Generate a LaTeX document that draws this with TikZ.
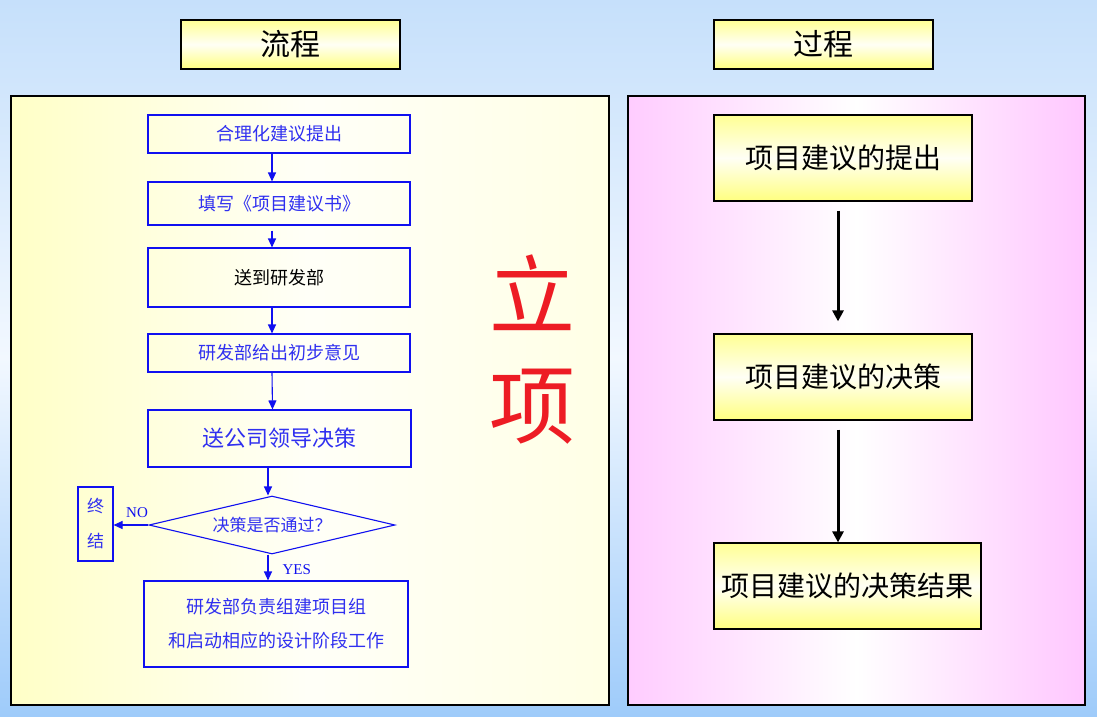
\documentclass[tikz,border=0pt]{standalone}
\usepackage{fontspec}
\usepackage{xcolor}
\usepackage{tikz}
\usetikzlibrary{positioning, arrows.meta, shapes}
\newfontfamily\cjk{Noto Sans CJK SC}
\newfontfamily\lat{Liberation Serif}
\definecolor{bgtop}{HTML}{C6E0FB}
\definecolor{bgmid}{HTML}{F2F8FF}
\definecolor{bgbot}{HTML}{9ECBFA}
\definecolor{flowblue}{HTML}{1010F0}
\definecolor{txtblue}{HTML}{3030F0}
\definecolor{lixiang}{HTML}{ED1C24}

\begin{document}
\begin{tikzpicture}[x=1pt, y=-1pt,
        fbox/.style={draw=flowblue, line width=1.1pt, minimum width=262pt, inner sep=0pt, text=txtblue, font=\cjk\fontsize{18}{22}\selectfont},
        farrow/.style={draw=flowblue, line width=1.1pt, -{Triangle[length=9pt,width=8pt]}},
        ybox/.style={draw=black, line width=1.2pt, top color=yellow!42, bottom color=yellow!50, middle color=yellow!4, inner sep=0pt},
        parrow/.style={draw=black, line width=3pt, -{Triangle[length=11pt,width=11pt]}}]
        \useasboundingbox (0,0) rectangle (1097,717);
        \shade[top color=bgtop, bottom color=bgbot, middle color=bgmid] (0,0) rectangle (1097,717);
        % panels
        \shade[draw=black, line width=1.2pt, left color=yellow!22, right color=yellow!10, middle color=yellow!3] (11,96) rectangle (609,705);
        \shade[draw=black, line width=1.2pt, left color=magenta!20, right color=magenta!22, middle color=white] (628,96) rectangle (1085,705);
        % titles
        \node[ybox, minimum width=219pt, minimum height=49pt, font=\cjk\fontsize{30}{34}\selectfont] (t1) at (290.5,44.5) {流程};
        \node[ybox, minimum width=219pt, minimum height=49pt, font=\cjk\fontsize{30}{34}\selectfont] (t2) at (823.5,44.5) {过程};
        % left flow
        \node[fbox, minimum height=38pt] (b1) at (279,134) {合理化建议提出};
        \node[fbox, minimum height=43pt] (b2) at (279,203.5) {填写《项目建议书》};
        \node[fbox, minimum height=59pt, text=black] (b3) at (279,277.5) {送到研发部};
        \node[fbox, minimum height=38pt] (b4) at (279,353) {研发部给出初步意见};
        \node[fbox, minimum width=263pt, minimum height=57pt, font=\cjk\fontsize{22}{26}\selectfont] (b5) at (279.5,438.5) {送公司领导决策};
        \node[fbox, diamond, aspect=4.24, minimum width=246pt, minimum height=58pt, font=\cjk\fontsize{17}{20}\selectfont] (dec) at (272,525) {决策是否通过？};
        \node[fbox, minimum width=35pt, minimum height=74pt, align=center, font=\cjk\fontsize{17}{35}\selectfont] (end) at (95.5,524) {终\\结};
        \node[fbox, minimum width=264pt, minimum height=86pt, align=center, font=\cjk\fontsize{18}{34}\selectfont] (b6) at (276,624) {研发部负责组建项目组\\和启动相应的设计阶段工作};
        \draw[farrow] ([xshift=-7pt]b1.south) -- ([xshift=-7pt]b2.north);
        \draw[farrow, shorten <=5pt] ([xshift=-7pt]b2.south) -- ([xshift=-7pt]b3.north);
        \draw[farrow] ([xshift=-7pt]b3.south) -- ([xshift=-7pt]b4.north);
        \draw[farrow] ([xshift=-7pt]b4.south) -- ([xshift=-7pt]b5.north);
        \draw[farrow] ([xshift=-11.5pt]b5.south) -- ([xshift=-11.5pt]b5.south |- dec.north);
        \draw[farrow] (dec.west) -- (dec.west -| end.east)
            node[pos=0, anchor=south east, inner sep=0pt, yshift=7pt, text=flowblue, font=\lat\fontsize{15}{17}\selectfont] {NO};
        \draw[farrow] ([xshift=-4pt]dec.south) -- ([xshift=-4pt]dec.south |- b6.north)
            node[pos=0.6, right=14pt, inner sep=0pt, text=flowblue, font=\lat\fontsize{15}{17}\selectfont] {YES};
        % big label
        \node[text=lixiang, align=center, font=\cjk\fontsize{86}{110}\selectfont] (lx) at (532.5,350) {立\\项};
        % right process
        \node[ybox, minimum width=258pt, minimum height=86pt, font=\cjk\fontsize{28}{32}\selectfont] (p1) at (843,158) {项目建议的提出};
        \node[ybox, minimum width=258pt, minimum height=86pt, font=\cjk\fontsize{28}{32}\selectfont] (p2) at (843,377) {项目建议的决策};
        \node[ybox, minimum width=267pt, minimum height=86pt, font=\cjk\fontsize{28}{32}\selectfont] (p3) at (847.5,586) {项目建议的决策结果};
        \draw[parrow, shorten <=9pt, shorten >=12pt] ([xshift=-5pt]p1.south) -- ([xshift=-5pt]p1.south |- p2.north);
        \draw[parrow, shorten <=9pt] ([xshift=-5pt]p2.south) -- ([xshift=-5pt]p2.south |- p3.north);
    \end{tikzpicture}
\end{document}
